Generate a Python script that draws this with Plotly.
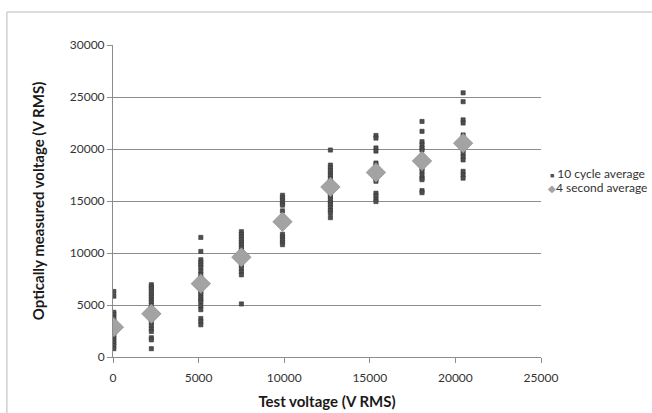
import plotly.graph_objects as go

# Test voltages (V RMS) for each measurement column
test_voltage = [50, 2240, 5130, 7500, 9900, 12700, 15360, 18050, 20450]

# 10 cycle average readings per test voltage (V RMS)
cyc_1 = [6300, 5850, 4300, 4080, 3800, 3550, 3300, 3050, 2800, 2600, 2350, 2100, 1850, 1600, 1350, 1100, 800]
cyc_2 = [6950, 6750, 6550, 6300, 6050, 5800, 5550, 5300, 5000, 4700, 4450, 3900, 3600, 3300, 3000, 2700, 2450, 1850, 1650, 800]
cyc_3 = [11500, 10150, 9350, 9100, 8850, 8600, 8250, 7950, 7600, 7300, 6800, 6500, 6250, 6000, 5750, 5500, 5300, 4900, 4550, 3700, 3400, 3100]
cyc_4 = [12050, 11800, 11550, 11300, 11050, 10800, 10550, 10300, 10050, 9300, 9050, 8800, 8500, 8200, 7900, 5100]
cyc_5 = [15550, 15300, 15050, 14800, 14600, 14050, 13500, 12900, 11800, 11550, 11300, 11050, 10800]
cyc_6 = [19900, 18450, 18200, 17950, 17700, 17450, 17200, 16900, 16600, 15900, 15650, 15400, 15150, 14900, 14650, 14400, 14100, 13850, 13400]
cyc_7 = [21300, 21050, 20100, 19800, 18650, 18450, 17100, 16900, 15750, 15500, 15200, 14950]
cyc_8 = [22650, 21700, 20700, 20400, 20100, 19900, 18150, 17850, 17500, 17200, 17050, 16000, 15800]
cyc_9 = [25400, 24550, 22800, 22500, 21350, 20250, 19900, 19550, 19250, 18950, 17850, 17500, 17200]

# 4 second average per test voltage (V RMS)
avg_4s = [2870, 4150, 7050, 9600, 13000, 16350, 17750, 18850, 20550]

x_ticks = [0, 5000, 10000, 15000, 20000, 25000]
y_ticks = [0, 5000, 10000, 15000, 20000, 25000, 30000]

columns = [cyc_1, cyc_2, cyc_3, cyc_4, cyc_5, cyc_6, cyc_7, cyc_8, cyc_9]
sx, sy = [], []
for xv, col in zip(test_voltage, columns):
    sx.extend([xv] * len(col))
    sy.extend(col)

FONT = "Lato"
fig = go.Figure()
fig.add_trace(go.Scatter(
    x=sx, y=sy, mode="markers", name="10 cycle average",
    marker=dict(symbol="square", size=4.2, color="#4f4f4f",
                line=dict(color="#363636", width=0.6)),
    showlegend=False,
))
fig.add_trace(go.Scatter(
    x=test_voltage, y=avg_4s, mode="markers", name="4 second average",
    marker=dict(symbol="diamond", size=15, color="#a3a3a3",
                line=dict(color="#8a8a8a", width=0.6)),
    showlegend=False,
))

fig.update_layout(
    width=652, height=413,
    margin=dict(l=113, r=111, t=45, b=56),
    paper_bgcolor="white", plot_bgcolor="white",
    font=dict(family=FONT, size=12, color="#333333"),
    showlegend=False,
    xaxis=dict(
        range=[0, 25000], tickvals=x_ticks, ticktext=[str(v) for v in x_ticks],
        showgrid=False, zeroline=False, automargin=False,
        showline=True, linecolor="#8c8c8c", linewidth=1,
        ticks="outside", ticklen=5, tickcolor="#8c8c8c", ticklabelstandoff=5,
        tickfont=dict(family=FONT, size=12, color="#333333"),
        title=dict(text="<b>Test voltage (V RMS)</b>", standoff=12,
                   font=dict(family=FONT, size=15, color="#1a1a1a")),
    ),
    yaxis=dict(
        range=[0, 30000], tickvals=y_ticks, ticktext=[str(v) for v in y_ticks],
        showgrid=True, gridcolor="#8c8c8c", gridwidth=1, zeroline=False, automargin=False,
        showline=True, linecolor="#8c8c8c", linewidth=1,
        ticks="outside", ticklen=5, tickcolor="#8c8c8c",
        tickfont=dict(family=FONT, size=12, color="#333333"),
        title=dict(text="<b>Optically measured voltage (V RMS)</b>", standoff=21,
                   font=dict(family=FONT, size=15, color="#1a1a1a")),
    ),
    annotations=[
        dict(xref="paper", yref="paper", x=1.0, y=0.588, xanchor="left", yanchor="middle",
             xshift=7, showarrow=False, align="left",
             text="<span style='color:#4f4f4f;font-size:7px'>■</span> 10 cycle average",
             font=dict(family=FONT, size=12, color="#333333")),
        dict(xref="paper", yref="paper", x=1.0, y=0.543, xanchor="left", yanchor="middle",
             xshift=5, showarrow=False, align="left",
             text="<span style='color:#a3a3a3;font-size:10px'>◆</span>4 second average",
             font=dict(family=FONT, size=12, color="#333333")),
    ],
    shapes=[
        dict(type="line", xref="paper", yref="paper", x0=-0.248, x1=1.5, y0=1.106, y1=1.106,
             line=dict(color="#d0d0d0", width=1.5)),
        dict(type="line", xref="paper", yref="paper", x0=-0.248, x1=-0.248, y0=1.106, y1=-0.3,
             line=dict(color="#d0d0d0", width=1.5)),
    ],
)

fig.write_html("out.html", config={"displayModeBar": False},
               post_script="document.body.style.margin='0';")
